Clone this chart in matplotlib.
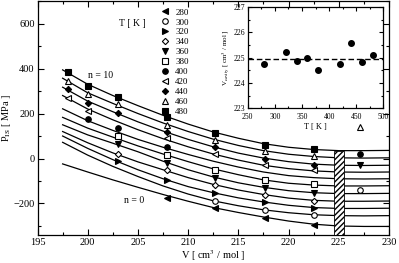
import matplotlib
matplotlib.use("Agg")
import matplotlib.pyplot as plt
from matplotlib.patches import Rectangle
from matplotlib.ticker import MultipleLocator

plt.rcParams["font.family"] = ["Liberation Serif", "DejaVu Serif"]
plt.rcParams["mathtext.fontset"] = "stix"

# isotherm curves, n = 0 .. 10, sampled at these volumes
curve_v = [197.5, 200, 202.5, 205, 207.5, 210, 212.5, 215, 217.5, 220, 222.5, 225, 227.5, 230]
curve_p = [
    [-24, -60, -95, -128, -160, -190, -218, -240, -260, -278, -292, -300, -302, -302],
    [72, 15, -35, -80, -122, -158, -188, -210, -228, -241, -250, -254, -255, -254],
    [100, 45, -5, -50, -90, -125, -152, -175, -193, -208, -218, -222, -222, -221],
    [120, 70, 25, -15, -50, -85, -115, -140, -160, -176, -186, -190, -190, -189],
    [150, 105, 68, 30, -12, -50, -82, -108, -128, -143, -152, -156, -156, -155],
    [183, 135, 95, 56, 20, -14, -46, -72, -95, -110, -118, -122, -122, -121],
    [221, 168, 125, 85, 50, 18, -12, -38, -60, -76, -85, -90, -91, -90],
    [280, 220, 172, 128, 88, 52, 20, -7, -30, -45, -55, -60, -61, -60],
    [317, 255, 208, 163, 122, 85, 52, 24, 2, -14, -25, -30, -31, -30],
    [357, 292, 245, 200, 158, 120, 86, 58, 35, 19, 9, 3, 2, 3],
    [394, 330, 280, 235, 192, 153, 118, 90, 66, 50, 40, 35, 35, 36],
]

temps = [280, 300, 320, 340, 360, 380, 400, 420, 440, 460, 480]
marker_v = [
    [207.9, 212.7, 217.7, 222.5],
    [212.7, 217.7, 222.5, 227.1],
    [203, 207.9, 212.7, 217.7, 222.5],
    [203, 207.9, 212.7, 217.7, 222.5],
    [203, 207.9, 212.7, 217.7, 222.5, 227.1],
    [203, 207.9, 212.7, 217.7, 222.5],
    [200, 203, 207.9, 227.1],
    [198, 200, 207.9, 212.7, 217.7, 222.5],
    [198, 200, 203, 207.9, 212.7, 217.7, 222.5],
    [198, 200, 203, 207.9, 212.7, 217.7, 222.5, 227.1],
    [198, 200, 203, 207.9, 212.7, 217.7, 222.5],
]
marker_p = [
    [-176, -221, -263, -294],
    [-190, -231, -250, -138],
    [-12, -95, -154, -194, -219],
    [18, -53, -117, -161, -187],
    [65, -19, -86, -130, -152, -31],
    [100, 16, -49, -95, -115],
    [176, 136, 53, 21],
    [269, 213, 90, 18, -31, -53],
    [309, 247, 203, 117, 50, -1, -27],
    [346, 287, 243, 151, 83, 32, 13, 139],
    [383, 324, 275, 185, 112, 62, 43],
]
marker_shape = ["<", "o", ">", "D", "v", "s", "o", "<", "D", "^", "s"]
marker_filled = [True, False, True, False, True, False, True, False, True, False, True]

# inset: cavitation volume vs temperature
cav_t = [280, 320, 340, 360, 380, 420, 440, 460, 480]
cav_v = [224.76, 225.24, 224.88, 224.97, 224.50, 224.74, 225.58, 224.84, 225.10]
cav_mean = 224.95


def style_axes(ax, size):
    ax.tick_params(which="both", direction="in", top=True, right=True,
                   labelsize=size, pad=2)
    ax.tick_params(which="major", length=4, width=0.8)
    ax.tick_params(which="minor", length=2, width=0.8)
    for s in ax.spines.values():
        s.set_linewidth(0.9)


def main():
    fig = plt.figure(figsize=(3.99, 2.63), dpi=100)
    ax = fig.add_axes([0.094, 0.1065, 0.881, 0.8895])

    for row in curve_p:
        ax.plot(curve_v, row, color="black", lw=0.9, zorder=2)

    for t, vs, ps, m, f in zip(temps, marker_v, marker_p, marker_shape, marker_filled):
        ms = 3.2 if m == "D" else 4.0
        ax.plot(vs, ps, ls="none", marker=m, ms=ms, mew=0.8,
                mfc="black" if f else "white", mec="black", zorder=3,
                label=str(t))

    ax.add_patch(Rectangle((224.5, -340), 1.0, 375, facecolor="white",
                           edgecolor="black", hatch="//////", lw=0.6, zorder=4))

    ax.text(201.3, 368, "n = 10", fontsize=7, ha="center", va="center")
    ax.text(204.6, -187, "n = 0", fontsize=7, ha="center", va="center")

    ax.set_xlim(195, 230)
    ax.set_ylim(-340, 700)
    ax.xaxis.set_major_locator(MultipleLocator(5))
    ax.xaxis.set_minor_locator(MultipleLocator(2.5))
    ax.yaxis.set_major_locator(MultipleLocator(200))
    ax.yaxis.set_minor_locator(MultipleLocator(100))
    style_axes(ax, 7.5)
    ax.set_xlabel(r"V [ cm$^3$ / mol ]", fontsize=7.5, labelpad=1)
    ax.set_ylabel(r"P$_{\rm IS}$ [ MPa ]", fontsize=7.5, labelpad=0)

    ax.legend(loc="upper left", bbox_to_anchor=(0.33, 1.0), frameon=False,
              fontsize=6.5, handlelength=1.0, handletextpad=0.6,
              labelspacing=0.18, borderpad=0.3)
    ax.text(0.27, 0.905, "T [ K ]", transform=ax.transAxes, fontsize=7,
            ha="center", va="center")

    ins = fig.add_axes([0.621, 0.5875, 0.340, 0.386])
    ins.plot(cav_t, cav_v, ls="none", marker="o", ms=4, color="black")
    ins.axhline(cav_mean, color="black", lw=1.0, dashes=(4, 2))
    ins.set_xlim(250, 500)
    ins.set_ylim(223, 227)
    ins.xaxis.set_major_locator(MultipleLocator(50))
    ins.xaxis.set_minor_locator(MultipleLocator(25))
    ins.yaxis.set_major_locator(MultipleLocator(1))
    ins.yaxis.set_minor_locator(MultipleLocator(0.5))
    style_axes(ins, 5.5)
    ins.tick_params(which="major", length=3)
    ins.tick_params(which="minor", length=1.5)
    ins.tick_params(axis="x", pad=3)
    ins.set_xlabel("T [ K ]", fontsize=6, labelpad=1.5)
    ins.set_ylabel(r"V$_{\rm cavity}$ [ cm$^3$ / mol ]", fontsize=5, labelpad=1)

    fig.savefig("out.png", dpi=100)


if __name__ == "__main__":
    main()
